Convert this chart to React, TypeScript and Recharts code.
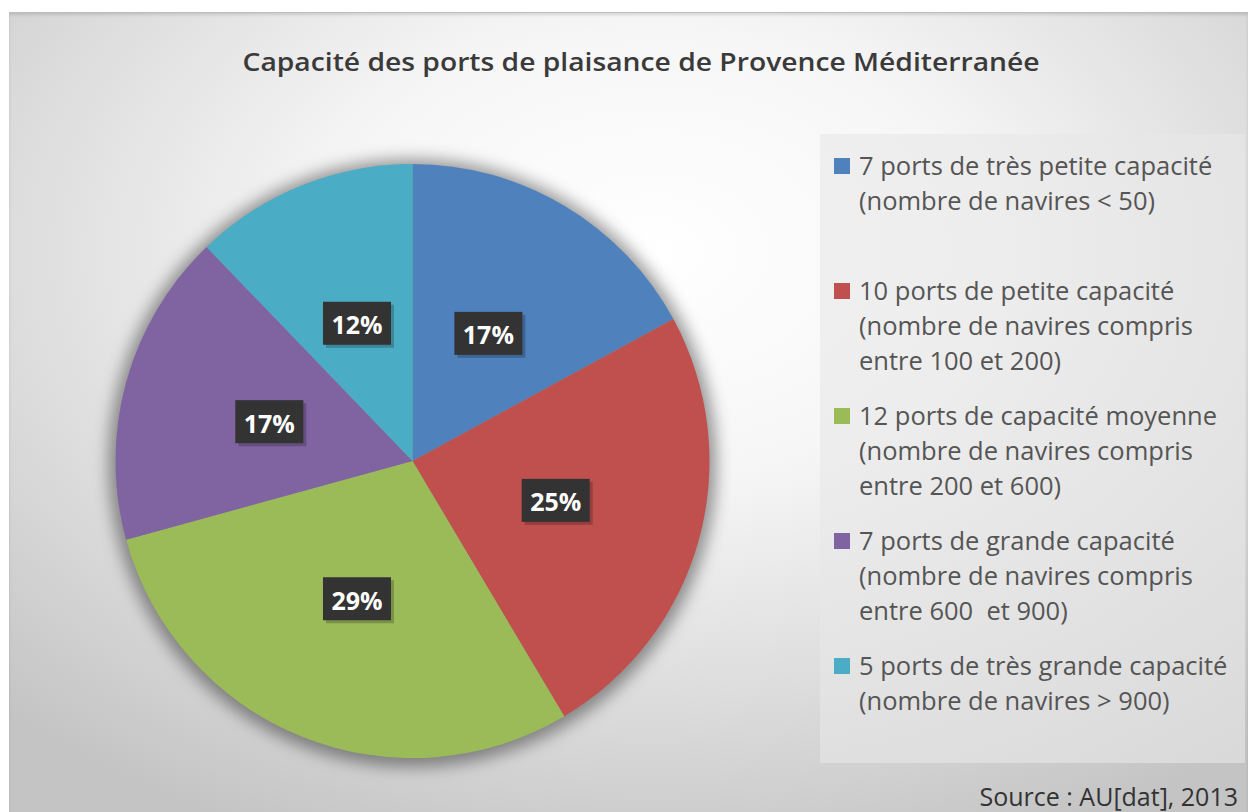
import { PieChart, Pie, Cell, Legend } from 'recharts';

// nombre de ports par classe de capacité (lu dans la légende)
const categories = [
  '7 ports de très petite capacité\n(nombre de navires < 50)',
  '10 ports de petite capacité\n(nombre de navires compris\nentre 100 et 200)',
  '12 ports de capacité moyenne\n(nombre de navires compris\nentre 200 et 600)',
  '7 ports de grande capacité\n(nombre de navires compris\nentre 600  et 900)',
  '5 ports de très grande capacité\n(nombre de navires > 900)',
];
const portCounts = [7, 10, 12, 7, 5];
const percentLabels = ['17%', '25%', '29%', '17%', '12%'];
const colors = ['#4F81BD', '#C0504D', '#9BBB59', '#8064A2', '#4BACC6'];

const TITLE = 'Capacité des ports de plaisance de Provence Méditerranée';
const SOURCE = 'Source : AU[dat], 2013';

const data = categories.map((name, i) => ({ name, value: portCounts[i], label: percentLabels[i] }));
// disque flou placé derrière le camembert pour l'ombre portée
const shadowData = [{ name: 'total', value: portCounts.reduce((a, b) => a + b, 0) }];

const W = 1239;
const H = 800;
const RADIAN = Math.PI / 180;
const FONT = '"Open Sans", "Noto Sans", sans-serif';

const renderLabel = (props: any) => {
  const { cx, cy, midAngle, outerRadius, index } = props;
  const r = outerRadius * 0.5;
  const x = cx + r * Math.cos(-midAngle * RADIAN);
  const y = cy + r * Math.sin(-midAngle * RADIAN);
  const bw = 68;
  const bh = 43;
  return (
    <g key={`lbl-${index}`}>
      <rect x={x - bw / 2 + 3} y={y - bh / 2 + 3} width={bw} height={bh} fill="rgba(0,0,0,0.22)" />
      <rect x={x - bw / 2} y={y - bh / 2} width={bw} height={bh} fill="#333333" />
      <text
        x={x}
        y={y + 1}
        textAnchor="middle"
        dominantBaseline="central"
        fill="#ffffff"
        fontFamily={FONT}
        fontWeight={700}
        fontSize={25}
      >
        {data[index].label}
      </text>
    </g>
  );
};

const renderLegend = () => (
  <div
    style={{
      width: 425,
      height: 629,
      background: 'rgba(232,232,232,0.6)',
      boxSizing: 'border-box',
      paddingTop: 14,
      fontFamily: FONT,
      fontSize: 25.5,
      color: '#555555',
    }}
  >
    {data.map((d, i) => (
      <div key={d.name} style={{ height: 125, position: 'relative', paddingLeft: 39 }}>
        <div
          style={{
            position: 'absolute',
            left: 14,
            top: 10,
            width: 16,
            height: 16,
            background: colors[i],
          }}
        />
        {d.name.split('\n').map((line) => (
          <div key={line} style={{ lineHeight: '35px', whiteSpace: 'pre' }}>
            {line}
          </div>
        ))}
      </div>
    ))}
  </div>
);

export default function App() {
  return (
    <div
      style={{
        position: 'absolute',
        left: 9,
        top: 12,
        width: W,
        height: H,
        background:
          'radial-gradient(ellipse 75% 80% at 52% 30%, #ffffff 0%, #f6f6f6 35%, #dcdcdc 70%, #c4c4c4 100%)',
        borderTop: '1px solid #bdbdbd',
        boxShadow: 'inset 0 2px 3px rgba(0,0,0,0.12)',
      }}
    >
      <PieChart width={W} height={H} margin={{ top: 0, right: 0, bottom: 0, left: 0 }}>
        <defs>
          <filter id="pieShadow" x="-20%" y="-20%" width="140%" height="140%">
            <feGaussianBlur stdDeviation="8" />
          </filter>
        </defs>
        <text
          x={632}
          y={48}
          textAnchor="middle"
          dominantBaseline="central"
          fontFamily={FONT}
          fontWeight={600}
          fontSize={26}
          textLength={797}
          lengthAdjust="spacingAndGlyphs"
          fill="#3a3a3a"
        >
          {TITLE}
        </text>
        <Pie
          data={shadowData}
          dataKey="value"
          cx={403.5}
          cy={450}
          outerRadius={304}
          stroke="none"
          label={false}
          labelLine={false}
          isAnimationActive={false}
        >
          <Cell fill="rgba(0,0,0,0.4)" filter="url(#pieShadow)" />
        </Pie>
        <Pie
          data={data}
          dataKey="value"
          nameKey="name"
          cx={403.5}
          cy={448}
          outerRadius={297}
          startAngle={90}
          endAngle={-270}
          stroke="none"
          label={renderLabel}
          labelLine={false}
          isAnimationActive={false}
        >
          {data.map((d, i) => (
            <Cell key={d.name} fill={colors[i]} />
          ))}
        </Pie>
        <Legend
          content={renderLegend}
          wrapperStyle={{ position: 'absolute', left: 811, top: 121, width: 425, height: 629 }}
        />
        <text
          x={1229}
          y={783}
          textAnchor="end"
          dominantBaseline="central"
          fontFamily={FONT}
          fontSize={25}
          fill="#333333"
        >
          {SOURCE}
        </text>
      </PieChart>
    </div>
  );
}
